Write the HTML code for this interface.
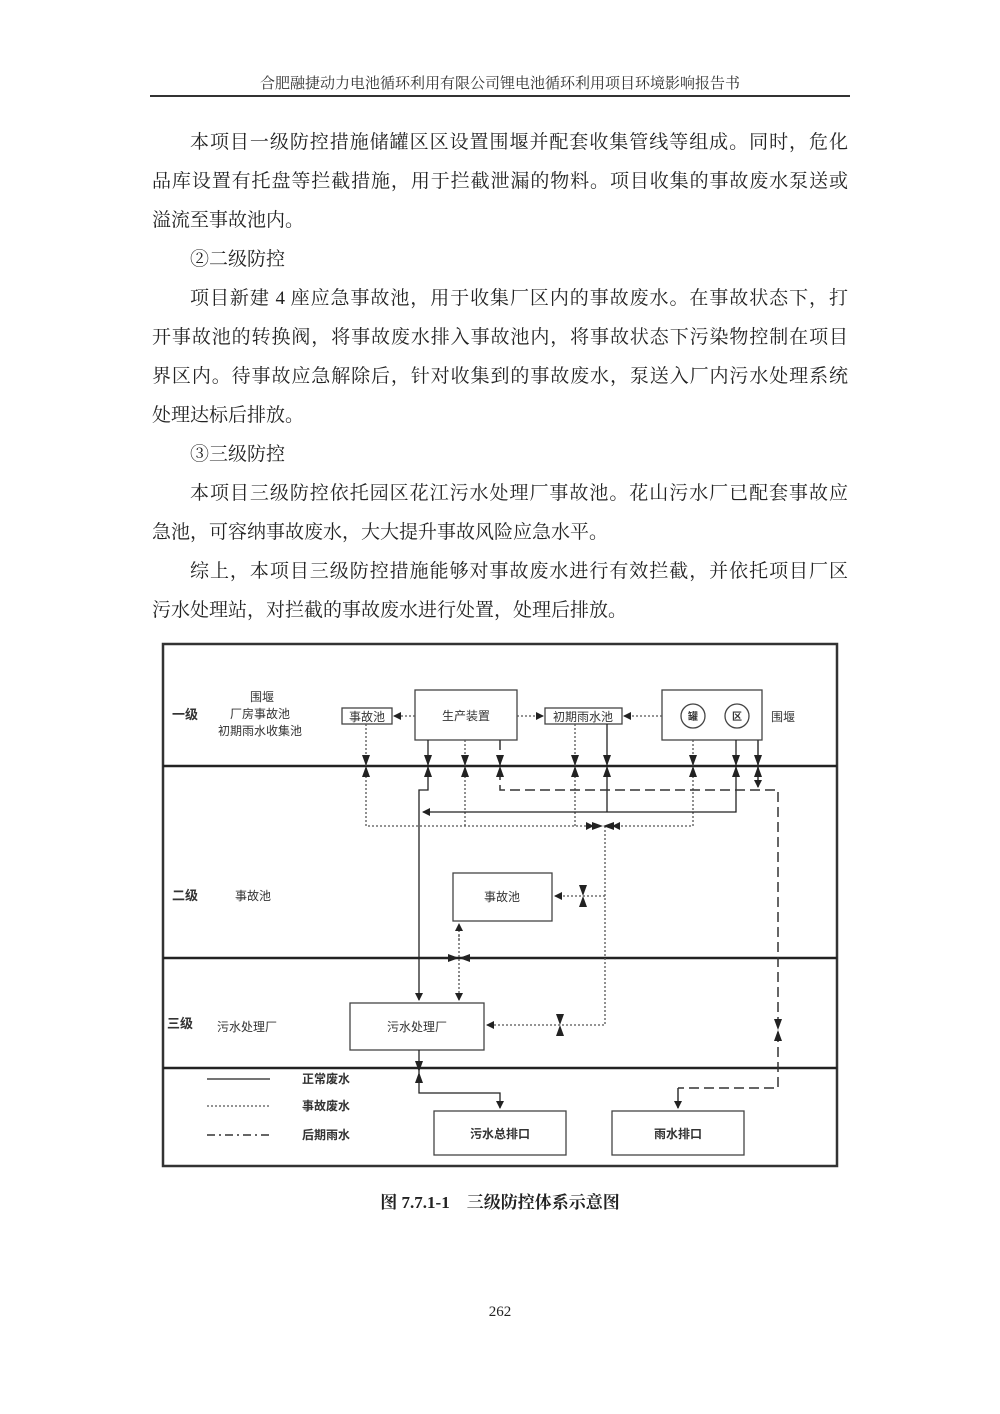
<!DOCTYPE html>
<html><head><meta charset="utf-8">
<style>
body{margin:0;background:#fff;}
#pg{position:relative;width:1000px;height:1414px;background:#fff;font-family:"Liberation Serif","Noto Serif CJK SC",serif;color:#222;}
.hd{position:absolute;left:150px;width:700px;top:72px;text-align:center;font-size:15px;color:#333;}
.hl{position:absolute;left:150px;width:700px;top:95px;border-top:2px solid #333;}
.ln{position:absolute;left:152px;width:696px;font-size:19px;line-height:24px;white-space:nowrap;}
.j{text-align:justify;text-align-last:justify;white-space:normal;}
.ind{padding-left:38px;width:658px;}
.cap{position:absolute;left:0;width:1000px;top:1188px;text-align:center;font-weight:bold;font-size:17px;}
.pn{position:absolute;left:0;width:1000px;top:1304px;text-align:center;font-size:15px;}
svg text{font-family:"Liberation Sans","Noto Sans CJK SC",sans-serif;fill:#333;}
</style></head><body><div id="pg">
<div class="hd">合肥融捷动力电池循环利用有限公司锂电池循环利用项目环境影响报告书</div>
<div class="hl"></div>
<div class="ln j ind" style="top:131px">本项目一级防控措施储罐区区设置围堰并配套收集管线等组成。同时，危化</div>
<div class="ln j" style="top:170px">品库设置有托盘等拦截措施，用于拦截泄漏的物料。项目收集的事故废水泵送或</div>
<div class="ln" style="top:209px">溢流至事故池内。</div>
<div class="ln ind" style="top:248px">②二级防控</div>
<div class="ln j ind" style="top:287px">项目新建 4 座应急事故池，用于收集厂区内的事故废水。在事故状态下，打</div>
<div class="ln j" style="top:326px">开事故池的转换阀，将事故废水排入事故池内，将事故状态下污染物控制在项目</div>
<div class="ln j" style="top:365px">界区内。待事故应急解除后，针对收集到的事故废水，泵送入厂内污水处理系统</div>
<div class="ln" style="top:404px">处理达标后排放。</div>
<div class="ln ind" style="top:443px">③三级防控</div>
<div class="ln j ind" style="top:482px">本项目三级防控依托园区花江污水处理厂事故池。花山污水厂已配套事故应</div>
<div class="ln" style="top:521px">急池，可容纳事故废水，大大提升事故风险应急水平。</div>
<div class="ln j ind" style="top:560px">综上，本项目三级防控措施能够对事故废水进行有效拦截，并依托项目厂区</div>
<div class="ln" style="top:599px">污水处理站，对拦截的事故废水进行处置，处理后排放。</div>

<svg style="position:absolute;left:0;top:0" width="1000" height="1414">
<defs>
<marker id="a" markerWidth="8" markerHeight="8" refX="7" refY="4" orient="auto" markerUnits="userSpaceOnUse"><path d="M0,0 L8,4 L0,8z" fill="#222"/></marker>
<g id="vv"><path d="M-4,-11 L4,-11 L0,0z M-4,11 L4,11 L0,0z" fill="#222"/></g>
<g id="vh"><path d="M-11,-4 L-11,4 L0,0z M11,-4 L11,4 L0,0z" fill="#222"/></g>
</defs>
<rect x="163" y="644" width="674" height="522" fill="none" stroke="#333" stroke-width="2.5"/>
<g stroke="#222" stroke-width="2.5"><line x1="163" y1="766" x2="837" y2="766"/><line x1="163" y1="958" x2="837" y2="958"/><line x1="163" y1="1068" x2="837" y2="1068"/></g>
<g font-size="12">
<text x="185" y="719" font-weight="bold" text-anchor="middle" font-size="13">一级</text>
<text x="262" y="701" text-anchor="middle">围堰</text>
<text x="260" y="718" text-anchor="middle">厂房事故池</text>
<text x="260" y="735" text-anchor="middle">初期雨水收集池</text>
<text x="783" y="721" text-anchor="middle">围堰</text>
<text x="185" y="900" font-weight="bold" text-anchor="middle" font-size="13">二级</text>
<text x="253" y="900" text-anchor="middle">事故池</text>
<text x="180" y="1028" font-weight="bold" text-anchor="middle" font-size="13">三级</text>
<text x="247" y="1031" text-anchor="middle">污水处理厂</text>
</g>
<g fill="none" stroke="#444" stroke-width="1.3">
<rect x="342" y="708" width="50" height="16"/>
<rect x="415" y="690" width="102" height="50"/>
<rect x="545" y="708" width="77" height="16"/>
<rect x="662" y="690" width="100" height="50"/>
<circle cx="693" cy="716" r="12"/><circle cx="737" cy="716" r="12"/>
<rect x="453" y="873" width="99" height="48"/>
<rect x="350" y="1003" width="134" height="47"/>
<rect x="434" y="1111" width="132" height="44"/>
<rect x="612" y="1111" width="132" height="44"/>
</g>
<g font-size="12" text-anchor="middle">
<text x="367" y="721">事故池</text>
<text x="466" y="720">生产装置</text>
<text x="583" y="721">初期雨水池</text>
<text x="693" y="720" font-size="10" font-weight="bold">罐</text>
<text x="737" y="720" font-size="10" font-weight="bold">区</text>
<text x="502" y="901">事故池</text>
<text x="417" y="1031">污水处理厂</text>
<text x="500" y="1138" font-weight="bold">污水总排口</text>
<text x="678" y="1138" font-weight="bold">雨水排口</text>
<text x="326" y="1083" font-weight="bold">正常废水</text>
<text x="326" y="1110" font-weight="bold">事故废水</text>
<text x="326" y="1139" font-weight="bold">后期雨水</text>
</g>
<!-- dotted lines -->
<g fill="none" stroke="#555" stroke-width="1.3" stroke-dasharray="2,2">
<line x1="415" y1="716" x2="394" y2="716" marker-end="url(#a)"/>
<line x1="517" y1="716" x2="543" y2="716" marker-end="url(#a)"/>
<line x1="662" y1="716" x2="624" y2="716" marker-end="url(#a)"/>
<polyline points="366,724 366,826 590,826"/>
<polyline points="465,740 465,826"/>
<polyline points="575,724 575,826"/>
<polyline points="693,740 693,826 612,826"/>
<polyline points="605,826 605,1025 487,1025" marker-end="url(#a)"/>
<line x1="605" y1="896" x2="555" y2="896" marker-end="url(#a)"/>
<line x1="459" y1="940" x2="459" y2="924" marker-end="url(#a)"/>
<line x1="459" y1="975" x2="459" y2="1000" marker-end="url(#a)"/>
<line x1="459" y1="935" x2="459" y2="980"/>
<line x1="207" y1="1106" x2="270" y2="1106"/>
</g>
<!-- solid lines -->
<g fill="none" stroke="#222" stroke-width="1.3">
<polyline points="428,740 428,790 419,790 419,1000" marker-end="url(#a)"/>
<polyline points="736,740 736,812 423,812" marker-end="url(#a)"/>
<line x1="607" y1="724" x2="607" y2="812"/>
<polyline points="419,1050 419,1093 500,1093 500,1108" marker-end="url(#a)"/>
<line x1="207" y1="1079" x2="270" y2="1079"/>
</g>
<!-- dashed -->
<g fill="none" stroke="#333" stroke-width="1.5" stroke-dasharray="10,5">
<polyline points="500,740 500,790 778,790 778,1088 678,1088"/>
<line x1="678" y1="1088" x2="678" y2="1108" stroke-dasharray="none" marker-end="url(#a)"/>
<line x1="758" y1="740" x2="758" y2="787" stroke-dasharray="none" marker-end="url(#a)"/>
<line x1="207" y1="1135" x2="270" y2="1135" stroke-dasharray="8,4,2,4"/>
</g>
<!-- valves -->
<use href="#vv" x="366" y="766"/><use href="#vv" x="428" y="766"/><use href="#vv" x="465" y="766"/>
<use href="#vv" x="500" y="766"/><use href="#vv" x="575" y="766"/><use href="#vv" x="607" y="766"/>
<use href="#vv" x="693" y="766"/><use href="#vv" x="736" y="766"/><use href="#vv" x="758" y="766"/>
<use href="#vh" x="603" y="826"/>
<path d="M586,822 L594,826 L586,830z M620,822 L612,826 L620,830z" fill="#222"/>
<use href="#vv" x="583" y="896"/>
<use href="#vh" x="459" y="958"/>
<use href="#vv" x="560" y="1025"/>
<use href="#vv" x="778" y="1030"/>
<use href="#vv" x="419" y="1072"/>
</svg>
<div class="cap">图 7.7.1-1　三级防控体系示意图</div>
<div class="pn">262</div>
</div></body></html>
